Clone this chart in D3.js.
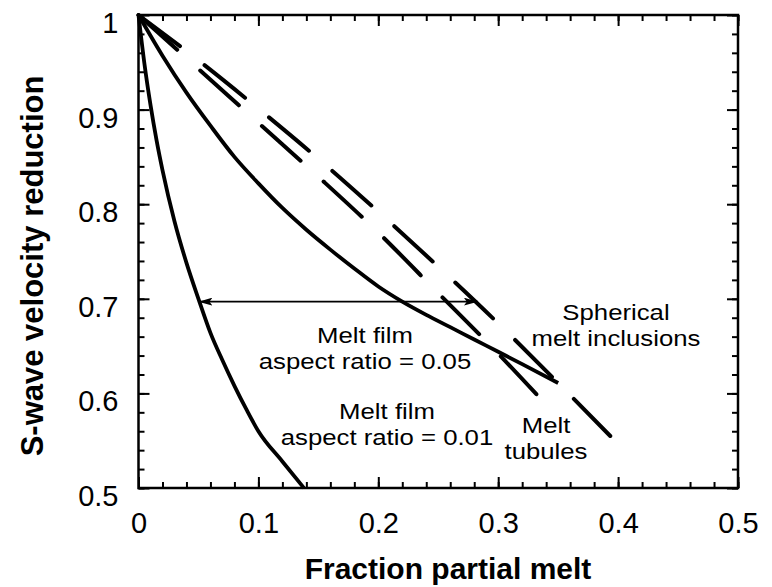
<!DOCTYPE html>
<html><head><meta charset="utf-8">
<script src="https://cdn.jsdelivr.net/npm/d3@7"></script>
<style>body{margin:0;background:#fff}svg{display:block}text{font-family:"Liberation Sans",Arial,Helvetica,sans-serif;fill:#000}</style>
</head><body><svg id="c" width="772" height="587"></svg>
<script>
// ---- data ----
const xTicks = [0, 0.1, 0.2, 0.3, 0.4, 0.5];
const xTickLabels = ["0", "0.1", "0.2", "0.3", "0.4", "0.5"];
const yTicks = [0.5, 0.6, 0.7, 0.8, 0.9, 1];
const yTickLabels = ["0.5", "0.6", "0.7", "0.8", "0.9", "1"];

const filmA001_x = [0, 0.005, 0.01, 0.015, 0.02, 0.03, 0.04, 0.05, 0.06, 0.07, 0.08, 0.09, 0.1, 0.12, 0.138];
const filmA001_y = [1, 0.948, 0.905, 0.868, 0.836, 0.782, 0.738, 0.700, 0.664, 0.635, 0.608, 0.583, 0.56, 0.528, 0.5];

const filmA005_x = [0, 0.02, 0.04, 0.06, 0.08, 0.1, 0.12, 0.14, 0.16, 0.18, 0.2, 0.22, 0.24, 0.26, 0.28, 0.3, 0.32, 0.35];
const filmA005_y = [1, 0.957, 0.918, 0.883, 0.850, 0.822, 0.796, 0.773, 0.752, 0.732, 0.713, 0.697, 0.683, 0.670, 0.657, 0.644, 0.631, 0.611];

const tubules_x = [0, 0.05, 0.1, 0.15, 0.2, 0.25, 0.3, 0.34];
const tubules_y = [1, 0.943, 0.886, 0.829, 0.77, 0.706, 0.642, 0.588];

const spherical_x = [0, 0.05, 0.1, 0.15, 0.2, 0.25, 0.3, 0.35, 0.395];
const spherical_y = [1, 0.952, 0.901, 0.848, 0.792, 0.734, 0.674, 0.611, 0.553];

const arrowX = [0.05, 0.283];
const arrowY = 0.697;

// ---- layout ----
const svg = d3.select("#c");
const x = d3.scaleLinear().domain([0, 0.5]).range([138.5, 738]);
const y = d3.scaleLinear().domain([0.5, 1]).range([488, 15]);

const g = svg.append("g");

// minor ticks on all four sides
const minorX = d3.range(0, 0.5001, 0.02);
const minorY = d3.range(0.5, 1.0001, 0.02);
function minor(axis) { return axis.tickSizeInner(-6).tickSizeOuter(0).tickFormat(""); }
g.append("g").attr("transform", `translate(0,${y(0.5)})`).call(minor(d3.axisBottom(x).tickValues(minorX)));
g.append("g").attr("transform", `translate(0,${y(1)})`).call(minor(d3.axisTop(x).tickValues(minorX)));
g.append("g").attr("transform", `translate(${x(0)},0)`).call(minor(d3.axisLeft(y).tickValues(minorY)));
g.append("g").attr("transform", `translate(${x(0.5)},0)`).call(minor(d3.axisRight(y).tickValues(minorY)));

// major ticks
g.append("g").attr("transform", `translate(0,${y(0.5)})`)
  .call(d3.axisBottom(x).tickValues(xTicks).tickSizeInner(-11).tickSizeOuter(0).tickPadding(24)
    .tickFormat((d, i) => xTickLabels[i]));
g.append("g").attr("transform", `translate(0,${y(1)})`)
  .call(d3.axisTop(x).tickValues(xTicks).tickSizeInner(-11).tickSizeOuter(0).tickFormat(""));
const ly = g.append("g").attr("transform", `translate(${x(0)},0)`)
  .call(d3.axisLeft(y).tickValues(yTicks).tickSizeInner(-11).tickSizeOuter(0).tickPadding(20)
    .tickFormat((d, i) => yTickLabels[i]));
g.append("g").attr("transform", `translate(${x(0.5)},0)`)
  .call(d3.axisRight(y).tickValues(yTicks).tickSizeInner(-11).tickSizeOuter(0).tickFormat(""));

g.selectAll(".domain").remove();
g.selectAll(".tick line").attr("stroke", "#000").attr("stroke-width", 2);
g.selectAll(".tick text").style("font-size", "29px").attr("fill", "#000");
ly.selectAll(".tick text").attr("dy", "0.6em");

// frame
g.append("rect").attr("x", x(0)).attr("y", y(1)).attr("width", x(0.5) - x(0)).attr("height", y(0.5) - y(1))
  .attr("fill", "none").attr("stroke", "#000").attr("stroke-width", 2.5);

// curves
const line = d3.line().x(d => x(d[0])).y(d => y(d[1])).curve(d3.curveMonotoneX);
function zip(a, b) { return a.map((v, i) => [v, b[i]]); }
const plot = g.append("g").attr("fill", "none").attr("stroke", "#000");
plot.append("path").attr("d", line(zip(filmA001_x, filmA001_y))).attr("stroke-width", 3.8);
plot.append("path").attr("d", line(zip(filmA005_x, filmA005_y))).attr("stroke-width", 3.8);
plot.append("path").attr("d", line(zip(tubules_x, tubules_y))).attr("stroke-width", 4)
  .attr("stroke-dasharray", "52,31").attr("stroke-linecap", "round");
plot.append("path").attr("d", line(zip(spherical_x, spherical_y))).attr("stroke-width", 4)
  .attr("stroke-dasharray", "52,31").attr("stroke-linecap", "round");

// arrow
const defs = svg.append("defs");
defs.append("marker").attr("id", "ah").attr("viewBox", "0 0 14 8").attr("refX", 14).attr("refY", 4)
  .attr("markerWidth", 14).attr("markerHeight", 8).attr("markerUnits", "userSpaceOnUse").attr("orient", "auto-start-reverse")
  .append("path").attr("d", "M0,0L14,4L0,8L3,4Z").attr("fill", "#000");
g.append("line").attr("x1", x(arrowX[0])).attr("x2", x(arrowX[1])).attr("y1", y(arrowY)).attr("y2", y(arrowY))
  .attr("stroke", "#000").attr("stroke-width", 1.6)
  .attr("marker-start", "url(#ah)").attr("marker-end", "url(#ah)");

// annotations (slightly wide lettering, as in the reference)
function label(px, py, lines, lh) {
  lines.forEach((s, i) => {
    g.append("g").attr("transform", `translate(${px},${py + i * lh}) scale(1.17,1)`)
      .append("text").attr("text-anchor", "middle").style("font-size", "22px").text(s);
  });
}
label(365, 343, ["Melt film", "aspect ratio = 0.05"], 25.5);
label(387, 419, ["Melt film", "aspect ratio = 0.01"], 26);
label(546, 433, ["Melt", "tubules"], 25.5);
label(616, 320, ["Spherical", "melt inclusions"], 25.5);

// axis titles
svg.append("text").attr("x", 448).attr("y", 579).attr("text-anchor", "middle")
  .style("font-size", "30px").style("font-weight", "bold").text("Fraction partial melt");
svg.append("text").attr("transform", "translate(43,266) rotate(-90)").attr("text-anchor", "middle")
  .style("font-size", "31px").style("font-weight", "bold").text("S-wave velocity reduction");
</script></body></html>
